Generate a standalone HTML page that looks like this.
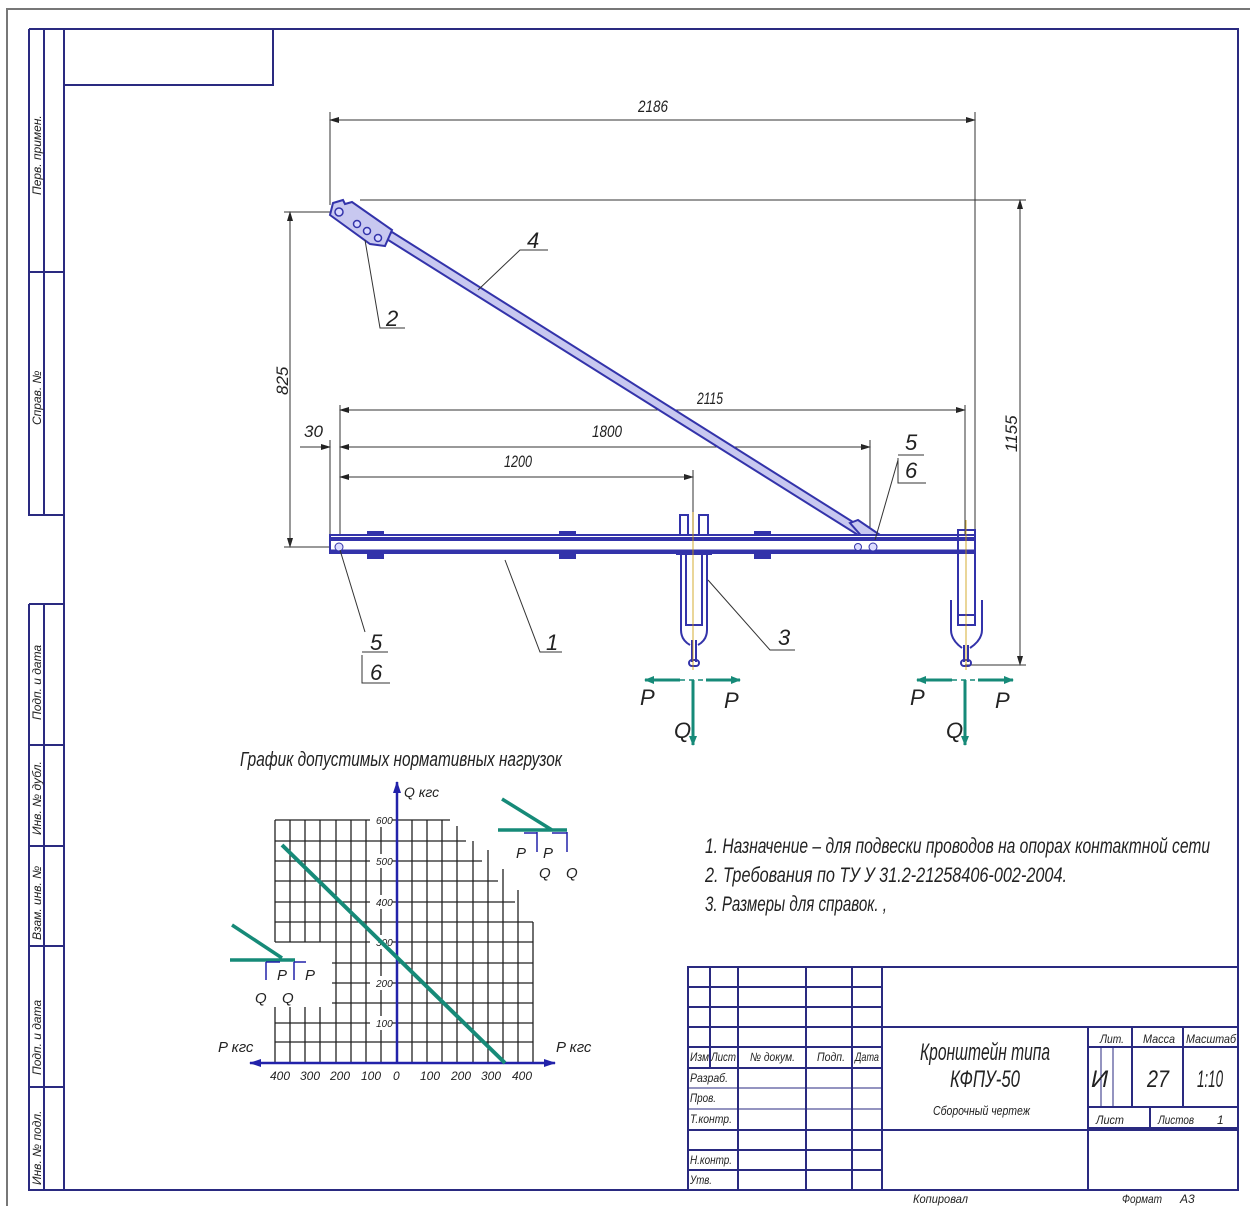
<!DOCTYPE html>
<html><head><meta charset="utf-8"><style>
html,body{margin:0;padding:0;background:#fff}
svg{display:block}
text{font-family:"Liberation Sans Narrow","Liberation Sans",sans-serif;font-style:italic;fill:#222}
</style></head><body>
<svg width="1250" height="1206" viewBox="0 0 1250 1206" xmlns="http://www.w3.org/2000/svg">
<defs>
<marker id="ar" markerWidth="10" markerHeight="6" refX="9" refY="3" orient="auto" markerUnits="userSpaceOnUse"><path d="M0,0 L10,3 L0,6 z" fill="#222"/></marker>
<marker id="ab" markerWidth="12" markerHeight="8" refX="11" refY="4" orient="auto" markerUnits="userSpaceOnUse"><path d="M0,0 L12,4 L0,8 z" fill="#2222aa"/></marker>
<marker id="at" markerWidth="10" markerHeight="8" refX="9" refY="4" orient="auto" markerUnits="userSpaceOnUse"><path d="M0,0 L10,4 L0,8 z" fill="#168a78"/></marker>
</defs>
<path d="M7,1206 V9 H1250" fill="none" stroke="#777" stroke-width="2"/>
<g stroke="#2a2a80" fill="none" stroke-width="2">
<rect x="64" y="29" width="1174" height="1161"/>
<path d="M29,29 V515 H64 M29,29 H64 M44,29 V515 M29,272 H64"/>
<path d="M29,604 V1190 H64 M29,604 H64 M44,604 V1190 M29,745 H64 M29,846 H64 M29,946 H64 M29,1087 H64"/>
<path d="M64,85 H273 V29"/>
</g>
<g font-size="12">
<text transform="translate(41,195) rotate(-90)">Перв. примен.</text>
<text transform="translate(41,425) rotate(-90)">Справ. №</text>
<text transform="translate(41,720) rotate(-90)">Подп. и дата</text>
<text transform="translate(41,835) rotate(-90)">Инв. № дубл.</text>
<text transform="translate(41,940) rotate(-90)">Взам. инв. №</text>
<text transform="translate(41,1075) rotate(-90)">Подп. и дата</text>
<text transform="translate(41,1185) rotate(-90)">Инв. № подл.</text>
</g>

<g stroke="#333" stroke-width="1" fill="none">
<path d="M330,112 V205 M975,112 V535"/>
<path d="M330,120 H975" marker-end="url(#ar)"/>
<path d="M284,212 H335 M284,547 H330"/>
<path d="M290,212 V547" marker-end="url(#ar)"/>
<path d="M290,547 V212" marker-end="url(#ar)"/>
<path d="M360,200 H1026 M965,665 H1026"/>
<path d="M1020,200 V665" marker-end="url(#ar)"/>
<path d="M1020,665 V200" marker-end="url(#ar)"/>
<path d="M340,405 V540 M965,405 V535 M870,440 V540 M693,470 V540 M330,440 V540"/>
<path d="M340,410 H965" marker-end="url(#ar)"/><path d="M965,410 H340" marker-end="url(#ar)"/>
<path d="M340,447 H870" marker-end="url(#ar)"/><path d="M870,447 H340" marker-end="url(#ar)"/>
<path d="M300,447 H330" marker-end="url(#ar)"/>
<path d="M340,477 H693" marker-end="url(#ar)"/><path d="M693,477 H340" marker-end="url(#ar)"/>
</g>
<path d="M975,120 H330" stroke="#333" marker-end="url(#ar)" fill="none"/>
<g font-size="17">
<text x="638" y="112" textLength="30" lengthAdjust="spacingAndGlyphs">2186</text>
<text transform="translate(288,395) rotate(-90)">825</text>
<text transform="translate(1017,452) rotate(-90)">1155</text>
<text x="697" y="404" textLength="26" lengthAdjust="spacingAndGlyphs">2115</text>
<text x="592" y="437" textLength="30" lengthAdjust="spacingAndGlyphs">1800</text>
<text x="304" y="437">30</text>
<text x="504" y="467" textLength="28" lengthAdjust="spacingAndGlyphs">1200</text>
</g>

<g stroke="#3333aa" fill="#c8c8f0" stroke-width="2">
<polygon points="385,238 392,232 872,534 866,540"/>
<polygon points="333,203 343,200 345,204 352,202 392,230 385,246 370,244 330,215"/>
<polygon points="850,523 858,520 880,535 865,540"/>
</g>
<g fill="#d8d8ff" stroke="#3333aa" stroke-width="1.5">
<circle cx="339" cy="212" r="4"/><circle cx="357" cy="224" r="3.5"/><circle cx="367" cy="231" r="3.5"/><circle cx="378" cy="238" r="3.5"/>
</g>
<g stroke="#3333aa" stroke-width="2">
<rect x="330" y="535" width="645" height="18" fill="#fff"/>
<path d="M330,539 H975" stroke-width="4"/>
<path d="M330,551 H975" stroke-width="3"/>
<g fill="#3333aa"><rect x="368" y="532" width="15" height="3"/><rect x="368" y="554" width="15" height="4"/>
<rect x="560" y="532" width="15" height="3"/><rect x="560" y="554" width="15" height="4"/>
<rect x="755" y="532" width="15" height="3"/><rect x="755" y="554" width="15" height="4"/></g>
</g>
<circle cx="339" cy="547" r="4" fill="#ddf" stroke="#3333aa"/>
<circle cx="858" cy="547" r="3.5" fill="#ddf" stroke="#3333aa"/><circle cx="873" cy="547" r="4" fill="#ddf" stroke="#3333aa"/>
<g stroke="#3333aa" stroke-width="2" fill="none">
<path d="M680,535 V515 H688 V535 M699,535 V515 H708 V535"/>
<path d="M676,554 H712"/>
<path d="M681,555 V630 Q681,640 690,645 M707,555 V630 Q707,640 698,645 M686,555 V625 H702 V555"/>
<path d="M692,640 V662 M696,640 V662"/>
<rect x="689" y="660" width="10" height="6" rx="3"/>
<path d="M958,530 H975 V615 H958 Z M958,540 H975"/>
<path d="M951,600 V630 Q951,640 962,648 M982,600 V630 Q982,640 970,648 M958,615 V625 H975 V615"/>
<path d="M964,645 V662 M968,645 V662"/>
<rect x="961" y="660" width="10" height="6" rx="3"/>
</g>
<path d="M693,512 V670 M966,520 V670" stroke="#c90" stroke-width="0.8"/>
<g stroke="#333" stroke-width="1" fill="none">
<path d="M478,290 L520,250 H548"/>
<path d="M365,240 L380,328 H405"/>
<path d="M505,560 L540,652 H562"/>
<path d="M708,580 L770,650 H795"/>
<path d="M340,550 L365,632"/>
<path d="M362,652 H388 M362,655 V683 H390"/>
<path d="M875,540 L898,460"/>
<path d="M898,455 H924 M898,458 V483 H926"/>
</g>
<g font-size="22">
<text x="527" y="248">4</text><text x="386" y="326">2</text><text x="546" y="650">1</text><text x="778" y="645">3</text>
<text x="370" y="650">5</text><text x="370" y="680">6</text><text x="905" y="450">5</text><text x="905" y="478">6</text>
</g>
<g stroke="#168a78" stroke-width="3" fill="none">
<path d="M680,680 H645" marker-end="url(#at)"/><path d="M706,680 H740" marker-end="url(#at)"/>
<path d="M680,680 H706" stroke-dasharray="5,4" stroke-width="1.5"/>
<path d="M693,680 V745" marker-end="url(#at)"/>
<path d="M952,680 H917" marker-end="url(#at)"/><path d="M978,680 H1013" marker-end="url(#at)"/>
<path d="M952,680 H978" stroke-dasharray="5,4" stroke-width="1.5"/>
<path d="M965,680 V745" marker-end="url(#at)"/>
</g>
<g font-size="22">
<text x="640" y="705">P</text><text x="724" y="708">P</text><text x="674" y="738">Q</text>
<text x="910" y="705">P</text><text x="995" y="708">P</text><text x="946" y="738">Q</text>
</g>

<text x="240" y="766" font-size="20" textLength="322" lengthAdjust="spacingAndGlyphs">График допустимых нормативных нагрузок</text>
<g stroke="#222" stroke-width="1.3" fill="none">
<path d="M275,820 H450 M275,841 H466 M275,861 H482 M275,881 H498 M275,902 H515 M275,922 H533 M275,942 H533
M332,963 H533 M332,983 H533 M332,1003 H533 M275,1023 H533 M275,1042 H533"/>
<path d="M275,820 V942 M290,820 V942 M305,820 V942 M320,820 V942 M275,1007 V1063 M290,1007 V1063 M305,1007 V1063 M320,1007 V1063"/>
<path d="M336,820 V1063 M351,820 V1063 M366,820 V1063 M381,820 V1063 M412,820 V1063 M427,820 V1063 M442,820 V1063 M457,826 V1063 M473,841 V1063 M488,850 V1063 M503,869 V1063 M518,890 V1063 M533,922 V1063"/>
</g>
<g fill="#fff"><rect x="370" y="813" width="22" height="14"/><rect x="370" y="854" width="22" height="14"/><rect x="370" y="895" width="22" height="14"/><rect x="370" y="935" width="22" height="14"/><rect x="370" y="976" width="22" height="14"/><rect x="370" y="1016" width="22" height="14"/></g>
<g font-size="10"><text x="376" y="824">600</text><text x="376" y="865">500</text><text x="376" y="906">400</text><text x="376" y="946">300</text><text x="376" y="987">200</text><text x="376" y="1027">100</text></g>
<path d="M397,1063 V782" stroke="#2222aa" stroke-width="2.5" marker-end="url(#ab)"/>
<path d="M397,1063 H555" stroke="#2222aa" stroke-width="2.5" marker-end="url(#ab)"/>
<path d="M397,1063 H250" stroke="#2222aa" stroke-width="2.5" marker-end="url(#ab)"/>
<path d="M282,845 L505,1063" stroke="#168a78" stroke-width="4"/>
<g font-size="12"><text x="270" y="1080">400</text><text x="300" y="1080">300</text><text x="330" y="1080">200</text><text x="361" y="1080">100</text><text x="393" y="1080">0</text><text x="420" y="1080">100</text><text x="451" y="1080">200</text><text x="481" y="1080">300</text><text x="512" y="1080">400</text></g>
<text x="404" y="797" font-size="14">Q кгс</text>
<text x="218" y="1052" font-size="15">P кгс</text><text x="556" y="1052" font-size="15">P кгс</text>
<g stroke="#168a78" stroke-width="3.5"><path d="M502,799 L552,830 M498,830 H567"/><path d="M232,925 L282,958 M230,960 H295"/></g>
<g stroke="#2222aa" stroke-width="1.5" fill="none">
<path d="M537,832 V852 M567,832 V852 M537,833 H524 M567,833 H552"/>
<path d="M266,962 V980 M294,962 V980 M266,962 H280 M294,962 H306"/>
</g>
<g font-size="15"><text x="516" y="858">P</text><text x="543" y="858">P</text><text x="539" y="878">Q</text><text x="566" y="878">Q</text>
<text x="277" y="980">P</text><text x="305" y="980">P</text><text x="255" y="1003">Q</text><text x="282" y="1003">Q</text></g>

<g font-size="21">
<text x="705" y="853" textLength="505" lengthAdjust="spacingAndGlyphs">1. Назначение – для подвески проводов на опорах контактной сети</text>
<text x="705" y="882" textLength="362" lengthAdjust="spacingAndGlyphs">2. Требования по ТУ У 31.2-21258406-002-2004.</text>
<text x="705" y="911" textLength="182" lengthAdjust="spacingAndGlyphs">3. Размеры для справок. ,</text>
</g>

<g stroke="#2a2a80" stroke-width="2" fill="none">
<path d="M688,1190 V967 H1238"/>
<path d="M710,967 V1068 M738,967 V1190 M806,967 V1190 M852,967 V1190 M882,967 V1190"/>
<path d="M688,987 H882 M688,1007 H882 M688,1027 H882 M688,1047 H882 M688,1068 H882 M688,1130 H882 M688,1150 H882 M688,1170 H882"/>
<path d="M688,1088 H882 M688,1109 H882" stroke-width="1"/>
<path d="M882,1027 H1238 M882,1130 H1238 M1088,1027 V1190 M1088,1047 H1238 M1088,1107 H1238 M1088,1128 H1238 M1132,1027 V1107 M1183,1027 V1107 M1150,1107 V1128"/>
<path d="M1101,1047 V1107 M1113,1047 V1107" stroke-width="1"/>
</g>
<g font-size="12">
<text x="690" y="1061" textLength="19" lengthAdjust="spacingAndGlyphs">Изм</text><text x="711" y="1061" textLength="25" lengthAdjust="spacingAndGlyphs">Лист</text><text x="750" y="1061" textLength="45" lengthAdjust="spacingAndGlyphs">№ докум.</text><text x="817" y="1061" textLength="28" lengthAdjust="spacingAndGlyphs">Подп.</text><text x="855" y="1061" textLength="24" lengthAdjust="spacingAndGlyphs">Дата</text>
<text x="690" y="1082" textLength="38" lengthAdjust="spacingAndGlyphs">Разраб.</text><text x="690" y="1102" textLength="26" lengthAdjust="spacingAndGlyphs">Пров.</text><text x="690" y="1123" textLength="42" lengthAdjust="spacingAndGlyphs">Т.контр.</text>
<text x="690" y="1164" textLength="42" lengthAdjust="spacingAndGlyphs">Н.контр.</text><text x="690" y="1184" textLength="22" lengthAdjust="spacingAndGlyphs">Утв.</text>
<text x="1100" y="1043" textLength="24" lengthAdjust="spacingAndGlyphs">Лит.</text><text x="1143" y="1043" textLength="32" lengthAdjust="spacingAndGlyphs">Масса</text><text x="1186" y="1043" textLength="50" lengthAdjust="spacingAndGlyphs">Масштаб</text>
<text x="1096" y="1124" textLength="28" lengthAdjust="spacingAndGlyphs">Лист</text><text x="1158" y="1124" textLength="36" lengthAdjust="spacingAndGlyphs">Листов</text><text x="1217" y="1124">1</text>
<text x="913" y="1203" textLength="55" lengthAdjust="spacingAndGlyphs">Копировал</text><text x="1122" y="1203" textLength="40" lengthAdjust="spacingAndGlyphs">Формат</text><text x="1180" y="1203">А3</text>
<text x="933" y="1115" font-size="13" textLength="97" lengthAdjust="spacingAndGlyphs">Сборочный чертеж</text>
</g>
<g font-size="24">
<text x="920" y="1060" textLength="130" lengthAdjust="spacingAndGlyphs">Кронштейн типа</text>
<text x="950" y="1087" textLength="70" lengthAdjust="spacingAndGlyphs">КФПУ-50</text>
<text x="1091" y="1087">И</text><text x="1147" y="1087" textLength="22" lengthAdjust="spacingAndGlyphs">27</text><text x="1197" y="1087" textLength="26" lengthAdjust="spacingAndGlyphs">1:10</text>
</g>
</svg>
</body></html>
